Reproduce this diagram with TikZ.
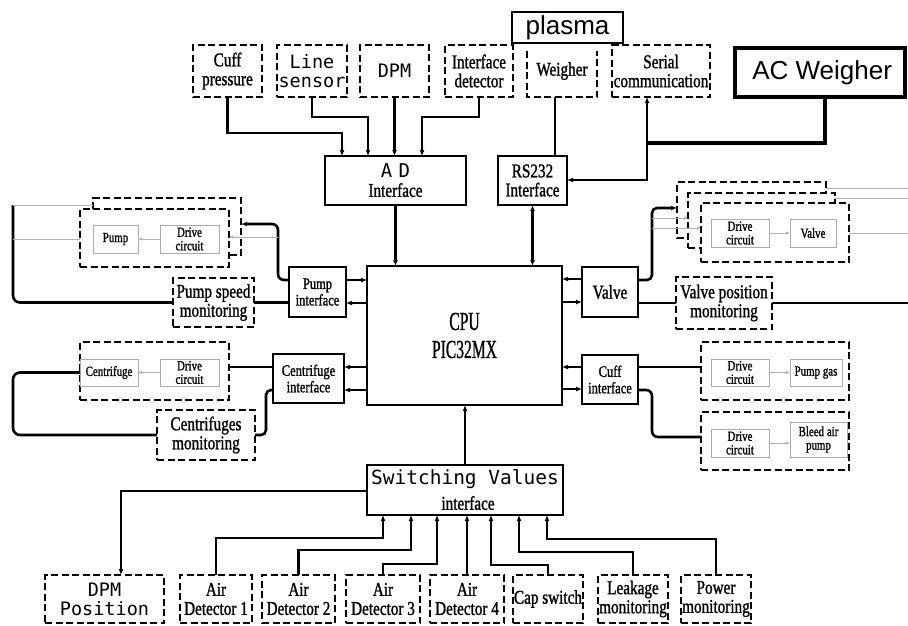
\documentclass[tikz,border=0pt]{standalone}
\usepackage{fontspec}
\setmainfont{Liberation Serif}
\newfontfamily\condf[FakeStretch=0.78,FakeBold=1.2]{Liberation Serif}
\newfontfamily\narrowf[FakeStretch=0.6,FakeBold=0.8]{Liberation Serif}
\newfontfamily\monof{DejaVu Sans Mono}
\newfontfamily\sansf{Liberation Sans}
\usetikzlibrary{arrows.meta}
\newcommand\mybox[8]{%
  \node[#1, minimum width={(#5-#3)*1pt}, minimum height={(#6-#4)*1pt}] (#2) at ({(#3+#5)/2},{(#4+#6)/2}) {};
  \node[#7] at (#2) {#8};}
\tikzset{
 sbox/.style={draw, line width=2.6pt, fill=white, inner sep=0pt, outer sep=0pt},
 dbox/.style={draw, line width=2.4pt, dash pattern=on 7pt off 3.5pt, fill=white, inner sep=0pt, outer sep=0pt},
 dline/.style={line width=2.4pt, dash pattern=on 7pt off 3.5pt},
 gbox/.style={draw=gray!65, line width=0.9pt, fill=white, inner sep=0pt, outer sep=0pt},
 hbox/.style={draw, line width=4.5pt, fill=white, inner sep=0pt, outer sep=0pt},
 nbox/.style={draw=none, inner sep=0pt, outer sep=0pt},
 conn/.style={line width=2.6pt},
 thinl/.style={draw=gray!60, line width=0.8pt},
 ar/.style={-{Latex[length=6pt,width=5pt]}},
 dar/.style={{Latex[length=6pt,width=5pt]}-{Latex[length=6pt,width=5pt]}},
 sar/.style={-{Latex[length=4pt,width=3.5pt]}},
 tm/.style={font=\condf\fontsize{19.5}{19}\selectfont, align=center, inner sep=0pt},
 tsm/.style={font=\condf\fontsize{16}{16.5}\selectfont, align=center, inner sep=0pt},
 ts/.style={font=\condf\fontsize{14}{13.5}\selectfont, align=center, inner sep=0pt},
 tmono/.style={font=\monof\fontsize{18.5}{19}\selectfont, align=center, inner sep=0pt},
 tcpu/.style={font=\narrowf\fontsize{26}{28}\selectfont, align=center, inner sep=0pt},
 tbig/.style={font=\sansf\fontsize{26}{26}\selectfont, inner sep=0pt},
}
\begin{document}
\begin{tikzpicture}[x=1pt,y=-1pt]
\fill[white] (0,0) rectangle (908,625);
\useasboundingbox (0,0) rectangle (908,625);

% ---------- top row ----------
\mybox{dbox}{cuffp}{193}{45}{262}{97}{tm}{Cuff\\pressure}
\mybox{dbox}{linesen}{277}{45}{347}{97}{tmono}{Line\\sensor}
\mybox{dbox}{dpm}{360}{45}{429}{97}{tmono}{DPM}
\mybox{dbox}{ifdet}{445}{45}{513}{97}{tm}{Interface\\detector}
\mybox{nbox}{weigher}{527}{45}{597}{97}{tm}{Weigher}
\draw[dline] ([yshift=-6pt]weigher.north west) -- (weigher.south west) -- (weigher.south east) -- ([yshift=-6pt]weigher.north east);
\mybox{sbox}{plasma}{512}{12}{623}{43}{tbig}{plasma}
\mybox{dbox}{serial}{612}{45}{710}{97}{tm}{Serial\\communication}
\mybox{hbox}{acw}{735}{48}{905}{97}{tbig}{\,AC Weigher}

\mybox{sbox}{ad}{325}{156}{466}{205}{tm}{{\monof\fontsize{19}{19}\selectfont A\,\,D}\\Interface}
\mybox{sbox}{rs}{498}{156}{567}{205}{tm}{RS232\\Interface}

% ---------- centre ----------
\mybox{sbox}{cpu}{367}{266}{562}{405}{tcpu}{CPU\\PIC32MX}
\mybox{sbox}{pumpif}{289}{267}{346}{317}{tsm}{Pump\\interface}
\mybox{sbox}{valveif}{582}{267}{638}{317}{tm}{Valve}
\mybox{sbox}{centif}{273}{354}{344}{403}{tsm}{Centrifuge\\interface}
\mybox{sbox}{cuffif}{582}{355}{638}{404}{tsm}{Cuff\\interface}

\mybox{sbox}{sw}{367}{465}{563}{515}{nbox}{}
\node[font=\monof\fontsize{19.5}{20}\selectfont, inner sep=0pt] (swt) at (465,479) {Switching Values};
\node[tm] (swi) at (468,503) {interface};

% ---------- bottom row ----------
\mybox{dbox}{dpmpos}{45}{575}{164}{623}{tmono}{DPM\\Position}
\mybox{dbox}{air1}{180}{575}{252}{623}{tm}{Air\\Detector 1}
\mybox{dbox}{air2}{262}{575}{335}{623}{tm}{Air\\Detector 2}
\mybox{dbox}{air3}{346}{575}{420}{623}{tm}{Air\\Detector 3}
\mybox{dbox}{air4}{430}{575}{504}{623}{tm}{Air\\Detector 4}
\mybox{dbox}{cap}{513}{575}{583}{623}{tm}{Cap switch}
\mybox{dbox}{leak}{598}{575}{668}{623}{tm}{Leakage\\monitoring}
\mybox{dbox}{power}{681}{575}{751}{623}{tm}{Power\\monitoring}

% ---------- pump group ----------
\mybox{dbox}{pback}{93}{198}{241}{255}{nbox}{}
\mybox{dbox}{pfront}{80}{209}{229}{267}{nbox}{}
\mybox{gbox}{pump}{93}{225}{138}{253}{ts}{Pump}
\mybox{gbox}{pdrive}{160}{225}{219}{253}{ts}{Drive\\circuit}
\mybox{dbox}{pspeed}{173}{278}{254}{327}{tm}{Pump speed\\monitoring}

% ---------- centrifuge group ----------
\mybox{dbox}{cbox}{80}{342}{229}{400}{nbox}{}
\mybox{gbox}{centr}{80}{359}{138}{386}{ts}{Centrifuge}
\mybox{gbox}{cdrive}{160}{359}{219}{386}{ts}{Drive\\circuit}
\mybox{dbox}{cmon}{157}{410}{255}{460}{tm}{Centrifuges\\monitoring}

% ---------- valve group ----------
\mybox{dbox}{vback}{677}{182}{826}{238}{nbox}{}
\mybox{dbox}{vmid}{688}{193}{835}{248}{nbox}{}
\mybox{dbox}{vfront}{701}{203}{849}{262}{nbox}{}
\mybox{gbox}{vdrive}{711}{219}{769}{247}{ts}{Drive\\circuit}
\mybox{gbox}{valve}{790}{219}{836}{247}{ts}{Valve}
\mybox{dbox}{vpos}{676}{277}{772}{329}{tm}{Valve position\\monitoring}

% ---------- cuff group ----------
\mybox{dbox}{cb1}{701}{342}{849}{400}{nbox}{}
\mybox{gbox}{cd1}{711}{359}{769}{386}{ts}{Drive\\circuit}
\mybox{gbox}{pgas}{790}{359}{842}{386}{ts}{Pump gas}
\mybox{dbox}{cb2}{701}{412}{849}{470}{nbox}{}
\mybox{gbox}{cd2}{711}{429}{769}{457}{ts}{Drive\\circuit}
\mybox{gbox}{bleed}{790}{422}{847}{457}{ts}{Bleed air\\pump}

% ---------- free ends ----------
\coordinate (ptl) at (13,205);
\coordinate (pml) at (13,239);
\coordinate (pj) at (278,237);
\coordinate (vj1) at (652,218);
\coordinate (vj2) at (652,228);
\coordinate (re1) at (908,188);
\coordinate (re2) at (908,198);
\coordinate (re3) at (908,233);
\coordinate (re4) at (908,303);

% ---------- connectors: top ----------
\draw[conn,ar] (cuffp.south) |- (342,133) -- (ad.north -| 342,0);
\draw[conn,ar] (linesen.south) |- (368,117) -- (ad.north -| 368,0);
\draw[conn,ar] (dpm.south) -- (dpm.south |- ad.north);
\draw[conn,ar] (ifdet.south) |- (422,117) -- (ad.north -| 422,0);
\draw[conn] (weigher.south -| 555,0) -- (rs.north -| 555,0);
\draw[conn,dar] (serial.south -| 647,0) |- (rs.east |- 0,180);
\draw[line width=3.6pt] (acw.south -| 825,0) |- (647,143);
\draw[conn,ar] (ad.south) -- (ad.south |- cpu.north);
\draw[conn,dar] (rs.south) -- (rs.south |- cpu.north);

% ---------- connectors: CPU sides ----------
\draw[conn,ar] (pumpif.east |- 0,280) -- (cpu.west |- 0,280);
\draw[conn,ar] (cpu.west |- 0,303) -- (pumpif.east |- 0,303);
\draw[conn,ar] (valveif.west |- 0,279) -- (cpu.east |- 0,279);
\draw[conn,ar] (cpu.east |- 0,302) -- (valveif.west |- 0,302);
\draw[conn,ar] (cpu.west |- 0,367) -- (centif.east |- 0,367);
\draw[conn,ar] (cpu.west |- 0,390) -- (centif.east |- 0,390);
\draw[conn,ar] (cuffif.west |- 0,367) -- (cpu.east |- 0,367);
\draw[conn,ar] (cpu.east |- 0,389) -- (cuffif.west |- 0,389);
\draw[conn,ar] (sw.north) -- (sw.north |- cpu.south);

% ---------- connectors: bottom ----------
\draw[conn,ar] (sw.west |- 0,491) -| (dpmpos.north -| 121,0);
\draw[conn,ar] (air1.north) |- (383,538) -- (sw.south -| 383,0);
\draw[conn,ar] (air2.north) |- (411,550) -- (sw.south -| 411,0);
\draw[conn,ar] (air3.north) |- (437,564) -- (sw.south -| 437,0);
\draw[conn,ar] (air4.north) -- (air4.north |- sw.south);
\draw[conn,ar] (cap.north) |- (491,565) -- (sw.south -| 491,0);
\draw[conn,ar] (leak.north) |- (519,552) -- (sw.south -| 519,0);
\draw[conn,ar] (power.north) |- (547,539) -- (sw.south -| 547,0);

% ---------- connectors: pump group ----------
\draw[conn,ar,rounded corners=6pt] (pumpif.west |- 0,280) -| (278,224) -- (pback.east |- 0,224);
\draw[thinl,sar] (pj) -- (pfront.east |- pj);
\draw[conn] (pspeed.east) -- (pumpif.west |- pspeed.east);
\draw[conn,rounded corners=7pt] (pspeed.west) -| (ptl);
\draw[thinl] (ptl) -- (pback.west |- ptl);
\draw[thinl] (pml) -- (pfront.west |- pml);
\draw[thinl,sar] (pdrive.west) -- (pump.east);

% ---------- connectors: centrifuge group ----------
\draw[conn] (cbox.east |- 0,367) -- (centif.west |- 0,367);
\draw[conn,rounded corners=5pt] (cmon.east) -| (266,390) -- (centif.west |- 0,390);
\draw[conn,rounded corners=7pt] (centr.west) -| (13,435) -- (cmon.west);
\draw[thinl,sar] (cdrive.west) -- (centr.east);

% ---------- connectors: valve group ----------
\draw[conn,ar,rounded corners=5pt] (valveif.east |- 0,280) -| (652,208) -- (vback.west |- 0,208);
\draw[thinl,sar] (vj1) -- (vmid.west |- vj1);
\draw[thinl,sar] (vj2) -- (vfront.west |- vj2);
\draw[conn] (valveif.east |- vpos.west) -- (vpos.west);
\draw[conn] (vpos.east) -- (re4);
\draw[thinl] (vback.east |- re1) -- (re1);
\draw[thinl] (vmid.east |- re2) -- (re2);
\draw[thinl] (vfront.east |- re3) -- (re3);
\draw[thinl,sar] (vdrive.east) -- (valve.west);

% ---------- connectors: cuff group ----------
\draw[conn] (cuffif.east |- 0,367) -- (cb1.west |- 0,367);
\draw[conn,rounded corners=6pt] (cuffif.east |- 0,390) -| (652,437) -- (cb2.west |- 0,437);
\draw[thinl,sar] (cd1.east) -- (pgas.west);
\draw[thinl,sar] (cd2.east) -- (bleed.west |- cd2.east);
\end{tikzpicture}
\end{document}
